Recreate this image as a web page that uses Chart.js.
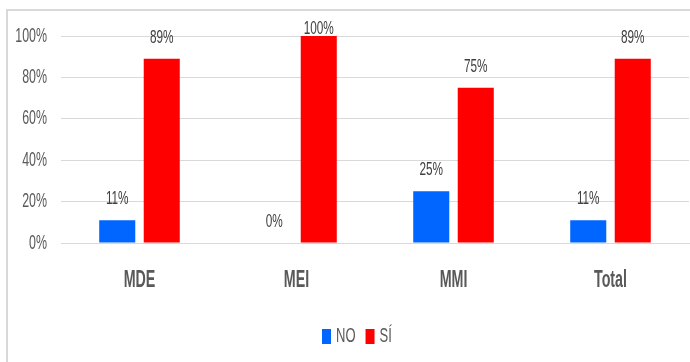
<!DOCTYPE html>
<html>
<head>
<meta charset="utf-8">
<script src="https://cdn.jsdelivr.net/npm/chart.js@4"></script>
<style>
  body { margin: 0; background: #fff; }
  #wrap { width: 690px; height: 362px; }
</style>
</head>
<body>
<div id="wrap"><canvas id="chart" width="690" height="362"></canvas></div>
<script>
var categories = ["MDE", "MEI", "MMI", "Total"];
var seriesNames = ["NO", "SÍ"];
var valuesNo = [11, 0, 25, 11];
var valuesSi = [89, 100, 75, 89];
var yTicks = [0, 20, 40, 60, 80, 100];

var FONT = "'Liberation Sans', Arial, sans-serif";
var SQUEEZE = 0.62;   // the original text is squashed sideways
var colors = ["#0066ff", "#ff0000"];

// write text squeezed horizontally
function squeezedText(ctx, text, x, y, align) {
    ctx.save();
    ctx.translate(x, y);
    ctx.scale(SQUEEZE, 1);
    ctx.textAlign = align;
    ctx.textBaseline = 'middle';
    ctx.fillText(text, 0, 0);
    ctx.restore();
}

// frame round the chart
var framePlugin = {
    id: 'frame',
    beforeDraw: function(chart) {
        var ctx = chart.ctx;
        ctx.save();
        ctx.fillStyle = '#fff';
        ctx.fillRect(0, 0, chart.width, chart.height);
        ctx.strokeStyle = '#d9d9d9';
        ctx.lineWidth = 2;
        ctx.strokeRect(7, 10, 720, 400);
        ctx.restore();
    }
};

// axis labels
var axisTextPlugin = {
    id: 'axisText',
    afterDraw: function(chart) {
        var ctx = chart.ctx;
        var xs = chart.scales.x, ys = chart.scales.y;
        ctx.save();
        ctx.fillStyle = '#595959';
        ctx.font = "20px " + FONT;
        ys.ticks.forEach(function(t) {
            squeezedText(ctx, t.value + '%', 47, ys.getPixelForValue(t.value), 'right');
        });
        ctx.font = "bold 23px " + FONT;
        chart.data.labels.forEach(function(lab, i) {
            squeezedText(ctx, lab, xs.getPixelForValue(i), 281, 'center');
        });
        ctx.restore();
    }
};

// labels above the bars
var labelPlugin = {
    id: 'barLabels',
    afterDatasetsDraw: function(chart) {
        var ctx = chart.ctx;
        ctx.save();
        ctx.font = "19px " + FONT;
        ctx.fillStyle = '#404040';
        chart.data.datasets.forEach(function(ds, i) {
            var meta = chart.getDatasetMeta(i);
            meta.data.forEach(function(bar, j) {
                var y = Math.max(bar.y - 21, 29);
                squeezedText(ctx, ds.data[j] + '%', bar.x, y, 'center');
            });
        });
        ctx.restore();
    }
};

// legend drawn by hand to sit where the original one is
var legendPlugin = {
    id: 'myLegend',
    afterDraw: function(chart) {
        var ctx = chart.ctx;
        ctx.save();
        ctx.font = "21px " + FONT;
        var x = 322, y = 336;
        chart.data.datasets.forEach(function(ds, i) {
            ctx.fillStyle = ds.backgroundColor;
            ctx.fillRect(x, y - 7, 9, 15);
            ctx.fillStyle = '#595959';
            squeezedText(ctx, ds.label, x + 14, y, 'left');
            x += 14 + ctx.measureText(ds.label).width * SQUEEZE + 10;
        });
        ctx.restore();
    }
};

var ctx1 = document.getElementById("chart").getContext("2d");
var myChart = new Chart(ctx1, {
    type: "bar",
    data: {
        labels: categories,
        datasets: [{
            label: seriesNames[0],
            data: valuesNo,
            backgroundColor: colors[0],
            categoryPercentage: 0.567,
            barPercentage: 0.81
        },
        {
            label: seriesNames[1],
            data: valuesSi,
            backgroundColor: colors[1],
            categoryPercentage: 0.567,
            barPercentage: 0.81
        }]
    },
    options: {
        responsive: false,
        animation: false,
        layout: { padding: { top: 36, right: 1, left: 0, bottom: 0 } },
        plugins: {
            legend: { display: false },
            tooltip: { enabled: false }
        },
        scales: {
            x: {
                grid: { display: false, drawTicks: false },
                border: { display: true, color: '#d9d9d9', width: 1 },
                ticks: { display: false },
                afterFit: function(scale) { scale.height = 119; }
            },
            y: {
                min: 0,
                max: 100,
                afterBuildTicks: function(scale) {
                    scale.ticks = yTicks.map(function(v) { return { value: v }; });
                },
                grid: { color: '#d9d9d9', drawTicks: false },
                border: { display: false },
                ticks: { display: false },
                afterFit: function(scale) { scale.width = 61; }
            }
        }
    },
    plugins: [framePlugin, labelPlugin, axisTextPlugin, legendPlugin]
});
</script>
</body>
</html>
